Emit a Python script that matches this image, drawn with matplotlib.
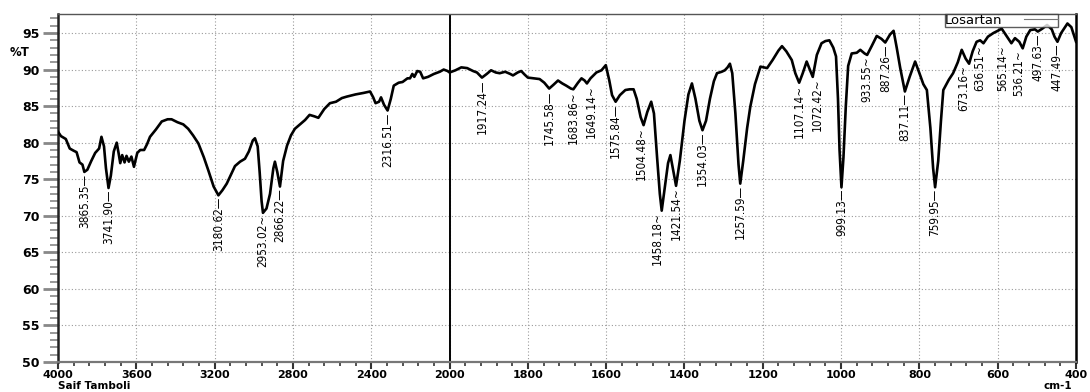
import matplotlib
matplotlib.use("Agg")
import matplotlib.pyplot as plt
import numpy as np

# FTIR spectrum of losartan, wavenumber (cm-1) vs transmittance (%T)
wn = [4000, 3985, 3960, 3940, 3920, 3905, 3890, 3875, 3865.35, 3850, 3830, 3810,
      3790, 3778, 3765, 3755, 3741.90, 3730, 3715, 3700, 3690, 3682, 3672, 3660,
      3650, 3638, 3625, 3612, 3595, 3580, 3560, 3545, 3530, 3500, 3470, 3440,
      3420, 3390, 3360, 3335, 3310, 3283, 3255, 3232, 3205, 3180.62, 3160, 3138,
      3115, 3096, 3070, 3045, 3025, 3005, 2994, 2980, 2970, 2960, 2953.02, 2935,
      2917, 2900, 2892, 2880, 2866.22, 2850, 2830, 2810, 2790, 2760, 2738, 2715,
      2690, 2670, 2640, 2611, 2580, 2550, 2525, 2480, 2440, 2406, 2390, 2378,
      2360, 2350, 2335, 2316.51, 2300, 2285, 2260, 2240, 2215, 2202, 2190, 2180,
      2165, 2150, 2135, 2110, 2080, 2050, 2030, 2010, 2000, 1985, 1970, 1955,
      1940, 1930, 1917.24, 1905, 1894, 1882, 1872, 1858, 1845, 1838, 1826, 1817,
      1808, 1800, 1785, 1770, 1758, 1745.58, 1735, 1723, 1712, 1702, 1690,
      1683.86, 1672, 1663, 1655, 1649.14, 1640, 1625, 1612, 1601, 1592, 1585,
      1575.84, 1565, 1551, 1540, 1530, 1522, 1512, 1504.48, 1495, 1485, 1478,
      1470, 1463, 1458.18, 1450, 1442, 1436, 1428, 1421.54, 1412, 1400, 1390,
      1381, 1372, 1362, 1354.03, 1345, 1335, 1325, 1317, 1305, 1297, 1290, 1284,
      1278, 1270, 1262, 1257.59, 1250, 1240, 1232, 1220, 1206, 1189, 1175, 1160,
      1151, 1140, 1126, 1117, 1107.14, 1098, 1088, 1080, 1072.42, 1062, 1050,
      1040, 1030, 1020, 1013, 1008, 1004, 999.13, 994, 988, 982, 973, 960, 951,
      940, 933.55, 922, 909, 897, 887.26, 875, 866, 858, 849, 837.11, 825, 811,
      800, 790, 781, 772, 765, 759.95, 752, 745, 739, 725, 714, 702, 692, 682,
      673.16, 664, 654, 645, 636.51, 625, 611, 600, 590, 580, 565.14, 556, 545,
      536.21, 527, 517, 505, 497.63, 486, 474, 462, 455, 447.49, 438, 422, 412,
      400]
trans = [81.5, 80.9, 80.5, 79.2, 78.9, 78.7, 77.3, 77.0, 76.0, 76.3, 77.5, 78.6,
         79.2, 80.8, 79.5, 76.5, 73.8, 75.5, 78.8, 80.0, 78.5, 77.2, 78.3, 77.3,
         78.2, 77.4, 78.1, 76.7, 78.6, 79.0, 79.0, 79.8, 80.8, 81.8, 82.9, 83.2,
         83.2, 82.8, 82.5, 81.9, 81.0, 79.9, 78.0, 76.2, 74.0, 72.8, 73.5, 74.4,
         75.7, 76.8, 77.4, 77.8, 78.8, 80.3, 80.6, 79.5, 76.0, 72.0, 70.4, 71.0,
         73.0, 76.5, 77.4, 76.0, 74.0, 77.5, 79.6, 81.0, 81.9, 82.6, 83.1, 83.8,
         83.6, 83.4, 84.6, 85.4, 85.6, 86.1, 86.3, 86.6, 86.8, 87.0, 86.2, 85.4,
         85.6, 86.2, 85.2, 84.4, 86.0, 87.8, 88.2, 88.3, 88.8, 88.8, 89.4, 89.0,
         89.8, 89.7, 88.8, 89.0, 89.4, 89.7, 90.0, 89.8, 89.6, 89.9, 90.3, 90.2,
         89.8, 89.6, 88.9, 89.4, 89.9, 89.6, 89.5, 89.7, 89.4, 89.2, 89.6, 89.8,
         89.3, 88.9, 88.8, 88.7, 88.2, 87.4, 87.9, 88.5, 88.1, 87.8, 87.4,
         87.3, 88.2, 88.8, 88.5, 88.1, 88.8, 89.6, 89.9, 90.6, 88.5, 86.5,
         85.6, 86.5, 87.2, 87.3, 87.3, 86.0, 83.5, 82.4, 84.2, 85.6, 84.0,
         78.0, 73.0, 70.7, 74.0, 77.2, 78.3, 76.0, 74.1, 77.5, 83.0, 86.6,
         88.1, 86.0, 83.0, 81.7, 83.0, 86.0, 88.4, 89.5, 89.7, 89.9, 90.3, 90.8,
         89.5, 84.0, 77.0, 74.4, 77.5, 82.0, 84.9, 88.0, 90.4, 90.2, 91.3, 92.6,
         93.2, 92.5, 91.3, 89.5, 88.2, 89.5, 91.1, 90.0, 89.0, 92.0, 93.6,
         93.9, 94.0, 93.0, 91.8, 86.0, 79.0, 73.9, 78.0, 85.0, 90.5, 92.2, 92.3, 92.7,
         92.2, 92.0, 93.2, 94.6, 94.2, 93.7, 94.8, 95.3, 93.0, 90.2, 87.0, 89.0, 91.1,
         89.5, 88.0, 87.2, 82.0, 76.5, 73.9, 77.5, 83.0, 87.2, 88.6, 89.5, 91.0, 92.7, 91.5,
         90.8, 92.5, 93.8, 94.0, 93.6, 94.5, 95.0, 95.3, 95.6, 94.8, 93.6, 94.3, 93.8,
         92.9, 94.5, 95.4, 95.5, 95.2, 95.6, 96.1, 95.5, 94.5, 93.8, 95.0, 96.3, 95.8,
         93.8]

# picked peaks, with the leader glyph drawn after each number
peaks = [3865.35, 3741.90, 3180.62, 2953.02, 2866.22, 2316.51, 1917.24, 1745.58,
         1683.86, 1649.14, 1575.84, 1504.48, 1458.18, 1421.54, 1354.03, 1257.59,
         1107.14, 1072.42, 999.13, 933.55, 887.26, 837.11, 759.95, 673.16, 636.51,
         565.14, 536.21, 497.63, 447.49]
leaders = ['—', '—', '—', '~', '—', '—', '—', '—', '~', '~', '—', '~', '~', '~',
           '—', '—', '~', '~', '—', '~', '—', '—', '—', '~', '~', '~', '~', '—', '—']
# sideways nudge (pt) for crowded labels
nudges = {1649.14: 3, 1072.42: 3, 673.16: -4, 636.51: -3, 565.14: -6, 536.21: -3,
          1458.18: -3, 1504.48: -2}

xticks = [4000, 3600, 3200, 2800, 2400, 2000, 1800, 1600, 1400, 1200, 1000, 800, 600, 400]
yticks = [50, 55, 60, 65, 70, 75, 80, 85, 90, 95]


# spectrometer axis: scale doubles below 2000 cm-1
def fwd(x):
    x = np.asarray(x, float)
    return np.where(x > 2000, 2000 + (x - 2000) / 2, x)


def inv(u):
    u = np.asarray(u, float)
    return np.where(u > 2000, 2000 + (u - 2000) * 2, u)


fig = plt.figure(figsize=(10.9, 3.92), dpi=100)
ax = fig.add_axes([0.0532, 0.0765, 0.9340, 0.8878])
ax.set_xscale('function', functions=(fwd, inv))
ax.set_xlim(4000, 400)
ax.set_ylim(50, 97.6)

ax.plot(wn, trans, color='black', lw=1.9, solid_joinstyle='round', label='Losartan', zorder=3)
ax.axvline(2000, color='black', lw=1.4, zorder=2)

ax.set_xticks(xticks)
ax.set_xticks(list(range(4000, 2000, -80)) + list(range(2000, 400, -40)), minor=True)
ax.set_yticks(yticks)
ax.set_yticks(range(50, 98), minor=True)
ax.grid(which='major', ls=(0, (1, 2)), color='#9a9a9a', lw=0.8)
ax.set_axisbelow(True)

ax.set_xticklabels([str(t) for t in xticks], family='DejaVu Sans', size=8, weight='bold')
ax.set_yticklabels([str(t) for t in yticks], family='DejaVu Sans', size=9, weight='bold')
ax.tick_params(axis='y', which='major', length=11, width=2, color='#888888', pad=2)
ax.tick_params(axis='y', which='minor', length=6, width=1.2, color='#888888')
ax.tick_params(axis='x', which='major', length=5, width=1.5, color='#333333', pad=0.5)
ax.tick_params(axis='x', which='minor', length=3, width=1.2, color='#333333')

ax.spines['top'].set_color('#555555')
ax.spines['top'].set_linewidth(1)
ax.spines['right'].set_color('black')
ax.spines['right'].set_linewidth(1.8)
ax.spines['left'].set_linewidth(1.8)
ax.spines['left'].set_color('#222222')
ax.spines['bottom'].set_linewidth(1.6)
ax.spines['bottom'].set_color('#777777')

# peak labels hanging under each minimum
for p, lead in zip(peaks, leaders):
    t = trans[wn.index(p)]
    ax.annotate(f'{p:.2f}{lead}', xy=(p, t), xytext=(nudges.get(p, 0), -1.2),
                textcoords='offset points', rotation=90, ha='center', va='top',
                fontsize=8.5, family='DejaVu Sans', fontstretch='condensed', zorder=4)

fig.text(0.009, 0.867, '%T', fontsize=8.5, weight='bold', family='DejaVu Sans', va='center')
fig.text(0.053, 0.002, 'Saif Tamboli', fontsize=7.5, weight='bold', family='DejaVu Sans', va='bottom')
fig.text(0.984, 0.002, 'cm-1', fontsize=7.5, weight='bold', family='DejaVu Sans', ha='right', va='bottom')

leg = ax.legend(loc='upper right', bbox_to_anchor=(0.9823, 1.0), frameon=True,
                fancybox=False, markerfirst=False, handlelength=2.6, handletextpad=1.6,
                borderpad=0.0, borderaxespad=0, prop=dict(family='DejaVu Sans', size=9.5))
leg.get_frame().set_edgecolor('#333333')
leg.get_frame().set_linewidth(1)
leg.get_lines()[0].set_linewidth(0.8)
leg.get_lines()[0].set_color('#777777')

fig.savefig('out.png', dpi=100)
